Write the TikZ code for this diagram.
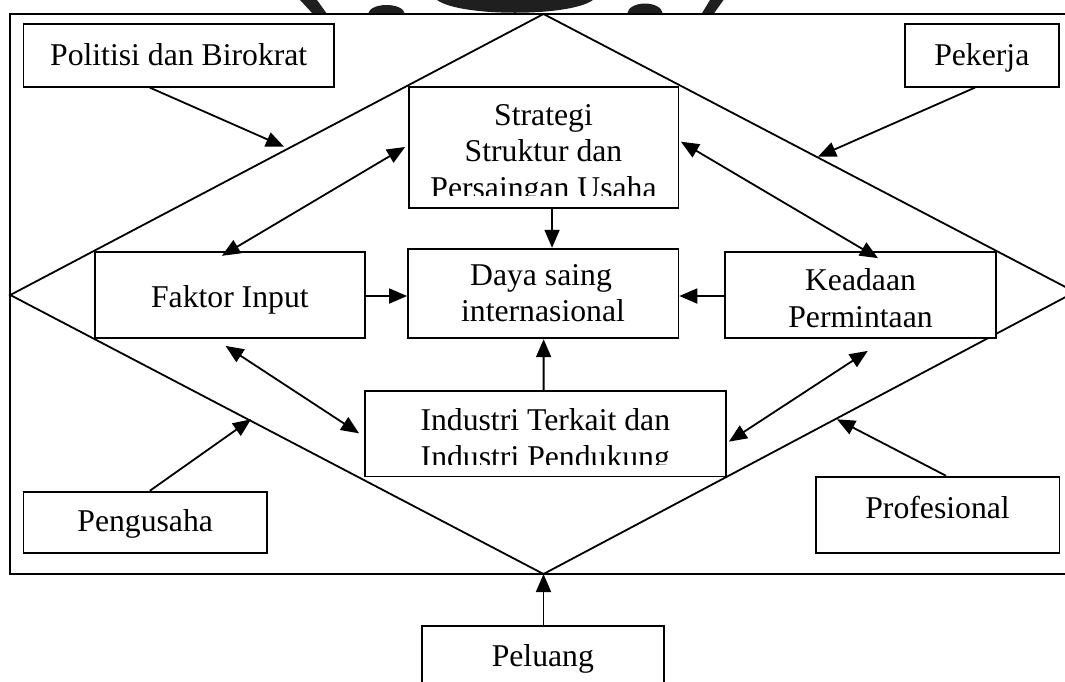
\documentclass[tikz,border=0pt]{standalone}
\usepackage{fontspec}
\setmainfont{Liberation Serif}
\usetikzlibrary{arrows.meta,calc}
\begin{document}
\begin{tikzpicture}[x=1pt,y=-1pt,
  line width=1.8pt,
  box/.style={draw,fill=white,rectangle,inner sep=0pt},
  lbl/.style={inner sep=0pt,anchor=base,font=\fontsize{31.7pt}{36.6pt}\selectfont},
  arr/.style={-{Triangle[length=18pt,width=15pt]}},
  darr/.style={{Triangle[length=18pt,width=15pt]}-{Triangle[length=18pt,width=15pt]}},
  ink/.style={fill=black!88,draw=none}]

\useasboundingbox (0,0) rectangle (1065,681);
\clip (0,0) rectangle (1065,681);

% dark seal fragments above the frame
\fill[ink] (300,0) -- (317,0) -- (327,14) -- (313,14) -- cycle;
\fill[ink] (368,14) .. controls (370,2) and (403,2) .. (405,14) -- cycle;
\fill[ink] (437,0) .. controls (460,17) and (570,17) .. (593,0) -- cycle;
\fill[ink] (627,14) .. controls (629,0) and (661,0) .. (663,14) -- cycle;
\fill[ink] (710,0) -- (723.5,0) -- (713.5,14) -- (701.5,14) -- cycle;

% outer frame
\draw (9.6,14) rectangle (1100,574);

% diamond
\coordinate (dT) at (543.5,14);
\coordinate (dL) at (10.3,295);
\coordinate (dB) at (543.5,574);
\coordinate (dR) at (1075,292);
\draw (dT) -- (dL) -- (dB) -- (dR) -- cycle;

% boxes
\node[box,minimum width=310.6pt,minimum height=62.4pt] (pol) at (178.7,55.5) {};
\node[box,minimum width=154.4pt,minimum height=62.4pt] (pek) at (981.8,55.5) {};
\node[box,minimum width=269.7pt,minimum height=121.6pt] (str) at (543.55,147.5) {};
\node[box,minimum width=270.3pt,minimum height=86.6pt] (fak) at (229.85,295) {};
\node[box,minimum width=270.4pt,minimum height=89.6pt] (day) at (543.2,293.5) {};
\node[box,minimum width=270.7pt,minimum height=86.6pt] (kea) at (860.35,295) {};
\node[box,minimum width=360.6pt,minimum height=85.5pt] (ind) at (545.3,433.75) {};
\node[box,minimum width=243.6pt,minimum height=61.6pt] (pen) at (145.2,522.5) {};
\node[box,minimum width=243.9pt,minimum height=76.6pt] (pro) at (937.55,515) {};
\node[box,minimum width=242.3pt,minimum height=74.3pt] (pel) at (542.85,662.85) {};

% labels
\node[lbl] (polA) at (178.7,65) {Politisi dan Birokrat};
\node[lbl] (pekA) at (981.8,65) {Pekerja};
\begin{scope}
  \clip (str.north west) rectangle ($(str.south east)+(0,-13.3)$);
  \node[lbl] (strA) at (543.5,125) {Strategi};
  \node[lbl] (strB) at (543.5,161.6) {Struktur dan};
  \node[lbl] (strC) at (543.5,198.2) {Persaingan Usaha};
\end{scope}
\node[lbl] (fakA) at (229.85,307.3) {Faktor Input};
\node[lbl] (dayA) at (541,285) {Daya saing};
\node[lbl] (dayB) at (543,321.6) {internasional};
\node[lbl] (keaA) at (860.5,290.7) {Keadaan};
\node[lbl] (keaB) at (860.5,327.3) {Permintaan};
\begin{scope}
  \clip (ind.north west) rectangle ($(ind.south east)+(0,-12.5)$);
  \node[lbl] (indA) at (545.3,430.7) {Industri Terkait dan};
  \node[lbl] (indB) at (545.3,467.3) {Industri Pendukung};
\end{scope}
\node[lbl] (penA) at (145.2,531.7) {Pengusaha};
\node[lbl] (proA) at (937.55,518.3) {Profesional};
\node[lbl] (pelA) at (542.85,666) {Peluang};

% points where outside forces meet the diamond
\coordinate (pPol) at (284,146.7);
\coordinate (pPek) at (818,156.7);
\coordinate (pPen) at (251,419.3);
\coordinate (pPro) at (837,419.3);

% outside forces
\draw[arr] ($(pol.south)+(-28.9,0)$) -- (pPol);
\draw[arr] ($(pek.south)+(-6.8,0)$) -- (pPek);
\draw[arr] ($(pen.north)+(4.6,0)$) -- (pPen);
\draw[arr] ($(pro.north)+(8.5,0)$) -- (pPro);
\draw[arr] ($(pel.north)+(0.65,0)$) -- (dB);

% links between the four determinants
\draw[darr] ($(str.west)+(-2.7,-0.5)$) -- ($(fak.north)+(-8,5)$);
\draw[darr] ($(str.east)+(1.6,-5.8)$) -- ($(kea.north)+(17.6,7.3)$);
\draw[darr] ($(fak.south)+(-4.3,6.7)$) -- ($(ind.west)+(-5,-0.4)$);
\draw[darr] ($(kea.south)+(7.4,11.7)$) -- ($(ind.east)+(2.4,7.9)$);

% into the centre
\draw[arr] ($(str.south)+(8.5,0)$) -- ($(day.north)+(8.85,0)$);
\draw[arr] ($(fak.east)+(0,1)$) -- ($(day.west)+(0,2.5)$);
\draw[arr] ($(kea.west)+(0,1)$) -- ($(day.east)+(0,2.5)$);
\draw[arr] ($(ind.north)+(-1.7,0)$) -- ($(day.south)+(0.4,0)$);
\end{tikzpicture}
\end{document}
